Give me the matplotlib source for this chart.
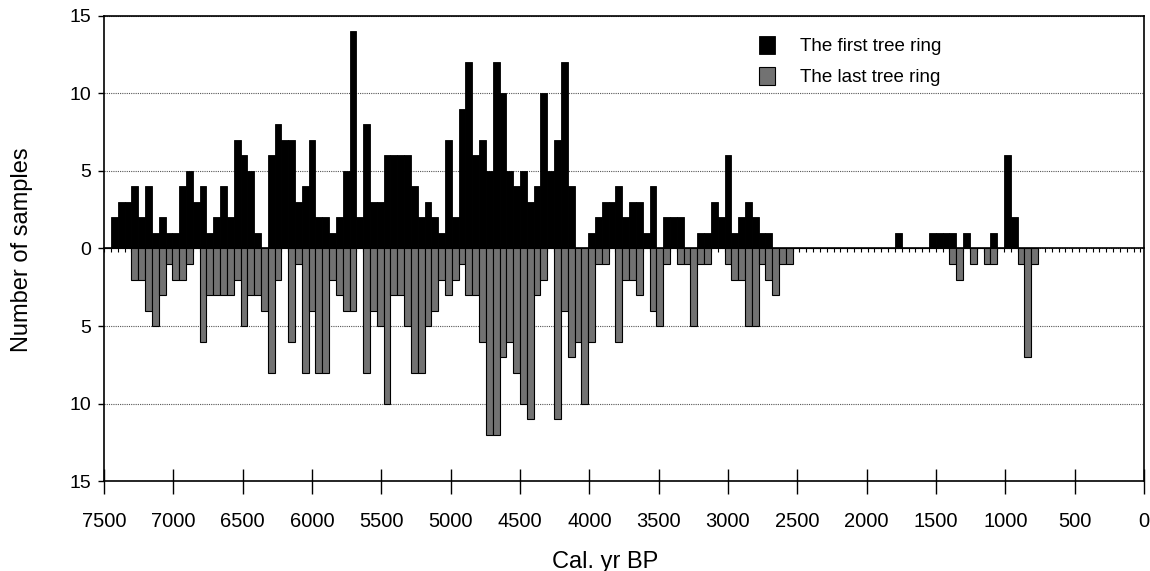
import numpy as np
import matplotlib
matplotlib.use("Agg")
import matplotlib.pyplot as plt

plt.rcParams['font.family'] = ['Liberation Sans', 'DejaVu Sans']

# counts per 50-yr bin, oldest bin first (bin start 7500, 7450, ...)
first_ring = [0, 2, 3, 3, 4, 2, 4, 1, 2, 1, 1, 4, 5, 3, 4, 1, 2, 4, 2, 7,
              6, 5, 1, 0, 6, 8, 7, 7, 3, 4, 7, 2, 2, 1, 2, 5, 14, 2, 8, 3,
              3, 6, 6, 6, 6, 4, 2, 3, 2, 1, 7, 2, 9, 12, 6, 7, 5, 12, 10, 5,
              4, 5, 3, 4, 10, 5, 7, 12, 4, 0, 0, 1, 2, 3, 3, 4, 2, 3, 3, 1,
              4, 0, 2, 2, 2, 0, 0, 1, 1, 3, 2, 6, 1, 2, 3, 2, 1, 1, 0, 0,
              0, 0, 0, 0, 0, 0, 0, 0, 0, 0, 0, 0, 0, 0, 0, 0, 1, 0, 0, 0,
              0, 1, 1, 1, 1, 0, 1, 0, 0, 0, 1, 0, 6, 2, 0, 0, 0]
last_ring = [0, 0, 0, 0, 2, 2, 4, 5, 3, 1, 2, 2, 1, 0, 6, 3, 3, 3, 3, 2,
             5, 3, 3, 4, 8, 2, 0, 6, 1, 8, 4, 8, 8, 2, 3, 4, 4, 0, 8, 4,
             5, 10, 3, 3, 5, 8, 8, 5, 4, 2, 3, 2, 1, 3, 3, 6, 12, 12, 7, 6,
             8, 10, 11, 3, 2, 0, 11, 4, 7, 6, 10, 6, 1, 1, 0, 6, 2, 2, 3, 0,
             4, 5, 1, 0, 1, 1, 5, 1, 1, 0, 0, 1, 2, 2, 5, 5, 1, 2, 3, 1,
             1, 0, 0, 0, 0, 0, 0, 0, 0, 0, 0, 0, 0, 0, 0, 0, 0, 0, 0, 0,
             0, 0, 0, 0, 1, 2, 0, 1, 0, 1, 1, 0, 0, 0, 1, 7, 1]
bin_width = 50
bin_start = 7500 - bin_width * np.arange(len(first_ring))
year_ticks = list(range(7500, -1, -500))
y_ticks = [-15, -10, -5, 0, 5, 10, 15]

fig = plt.figure(figsize=(11.5, 5.71), dpi=100)
ax = fig.add_axes([0.0904, 0.1576, 0.9044, 0.8144])

centers = bin_start - bin_width / 2
ax.bar(centers, first_ring, width=bin_width, color='black', edgecolor='black',
       linewidth=0.6, label='The first tree ring')
ax.bar(centers, -np.array(last_ring), width=bin_width, color='#727272',
       edgecolor='black', linewidth=0.8, label='The last tree ring')

# bar (category) axis runs on the zero line with a small tick per bin
ax.set_xlim(7501.5, -127)
ax.set_ylim(-15, 15)
ax.spines['bottom'].set_position(('data', 0))
ax.spines['bottom'].set_linewidth(1.2)
edges = np.arange(7500, -150, -bin_width)
ax.set_xticks(edges)
ax.set_xticklabels([])
ax.tick_params(axis='x', direction='out', length=3, width=0.8)

ax.set_yticks(y_ticks)
ax.set_yticklabels([str(abs(v)) for v in y_ticks], fontsize=14)
ax.tick_params(axis='y', direction='out', length=4, width=1, pad=5)
ax.set_axisbelow(True)
ax.yaxis.grid(True, linestyle=(0, (1, 1)), color='#555555', linewidth=0.8)
for s in ['top', 'left', 'right']:
    ax.spines[s].set_linewidth(1.2)

# labelled year axis along the bottom frame
ax2 = ax.twiny()
ax2.set_xlim(7500, 0)
ax2.xaxis.tick_bottom()
ax2.spines['bottom'].set_visible(True)
ax2.spines['bottom'].set_linewidth(1.2)
for s in ['top', 'left', 'right']:
    ax2.spines[s].set_visible(False)
ax2.set_xticks(year_ticks)
ax2.set_xticklabels([str(t) for t in year_ticks], fontsize=14.5)
ax2.tick_params(axis='x', direction='inout', length=18, width=1, pad=13)

fig.text(605 / 1150, 1 - 562 / 571, 'Cal. yr BP', ha='center', va='center',
         fontsize=17)
fig.text(22 / 1150, 1 - 250 / 571, 'Number of samples', ha='center', va='center',
         rotation=90, fontsize=17)

ax.legend(loc='upper left', bbox_to_anchor=(0.614, 0.994), frameon=False,
          fontsize=13.5, handlelength=0.85, handleheight=1.1, handletextpad=1.3,
          labelspacing=0.64)

fig.savefig('out.png', dpi=100)
